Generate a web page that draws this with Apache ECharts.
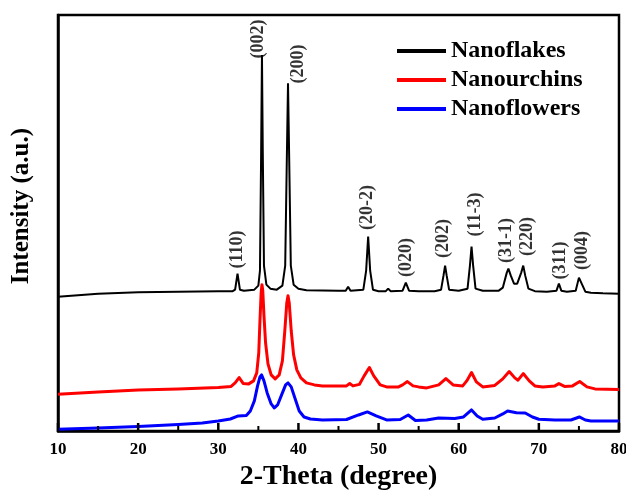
<!DOCTYPE html>
<html><head><meta charset="utf-8">
<script src="https://cdn.jsdelivr.net/npm/echarts@6/dist/echarts.min.js"></script>
<style>html,body{margin:0;padding:0;background:#fff}#c{width:626px;height:491px}</style>
</head><body><div id="c"></div>
<script>
const seriesNames = ['Nanoflakes', 'Nanourchins', 'Nanoflowers'];
const xTicks = [10, 20, 30, 40, 50, 60, 70, 80];
const flakes = [[10,134],[15,137],[20,138.5],[25,139],[30,139.5],[31.8,139.5],[32.1,141],[32.4,157],[32.7,141],[33.2,140],[34.5,141],[35.0,145],[35.2,160],[35.35,280],[35.45,375],[35.55,280],[35.7,165],[36.0,146],[36.5,142],[37.3,141],[38.0,145],[38.35,165],[38.55,270],[38.7,347],[38.85,270],[39.05,165],[39.4,146],[40,142],[41,140.5],[45,140],[45.9,140],[46.2,144],[46.5,140],[48.1,141],[48.45,160],[48.7,194],[48.95,160],[49.3,141],[50,139.5],[50.9,139.5],[51.2,142],[51.5,139.5],[53.0,140],[53.4,148],[53.8,140],[55,139.5],[57,139.5],[57.8,141],[58.1,155],[58.3,165],[58.5,155],[58.8,141],[60,140],[61.1,142],[61.4,165],[61.6,184],[61.8,165],[62.1,142],[63,140],[65,140],[65.5,143],[66.0,158],[66.2,162],[66.5,155],[66.9,147],[67.3,147],[67.8,158],[68.05,165],[68.3,155],[68.7,142],[69.5,139.5],[71,139],[72.2,140],[72.5,147],[72.8,140],[73.5,139],[74.6,140],[75.0,153],[75.1,153],[75.4,146],[75.8,139],[76.5,138],[78,137.5],[80,137]];
const urchins = [[10,36.7],[15,39],[20,41],[25,42],[30,43.3],[31.6,44.5],[32.1,48],[32.6,53.3],[33.1,47.5],[33.8,47],[34.4,50],[34.8,58],[35.05,78],[35.2,110],[35.35,138],[35.45,146],[35.55,140],[35.7,115],[35.9,88],[36.2,67],[36.6,56],[37.1,52],[37.6,56],[38.0,70],[38.3,100],[38.55,128],[38.7,135],[38.85,128],[39.1,100],[39.4,76],[39.8,61],[40.3,53],[41,48],[42,46],[43,45],[46,45],[46.4,47.3],[46.8,45],[47.6,46.5],[48.2,55],[48.85,63.3],[49.4,55],[50.2,46],[51,44],[52.5,44],[53.0,46],[53.6,49.3],[54.3,45],[55,44],[56,43],[57.5,46],[58.4,52.3],[59.3,46],[60.5,45],[61.0,50],[61.6,58.3],[62.2,49],[63,44],[64.5,45.5],[65.5,52],[66.3,59.3],[67.0,53],[67.4,50.7],[68.05,57.3],[68.8,50],[69.5,45],[70.5,44],[72.0,45],[72.5,47.3],[73.2,44.5],[74.2,45],[75.1,49.3],[76.0,44],[77,42],[80,41.5]];
const flowers = [[10,1.7],[15,3],[20,4.5],[25,6.5],[28,8],[30,10],[31.5,12],[32.5,15],[33.5,15.5],[34.0,20],[34.5,30],[34.9,45],[35.2,54],[35.4,56],[35.7,50],[36.1,38],[36.6,27],[37.0,23],[37.4,26],[37.9,36],[38.4,46],[38.7,48],[39.1,44],[39.6,32],[40.1,20],[40.7,14],[41.5,12],[43,11],[46,11.5],[47.5,16],[48.6,19],[49.7,15],[51,11],[52.7,11.5],[53.7,16],[54.6,10.5],[56,11],[57.5,13],[59.5,12.5],[60.6,14],[61.6,21],[62.3,15],[63.0,11.7],[64.5,13],[65.5,17],[66.1,20],[67.2,18.3],[68.3,18],[69.2,14],[70,11.7],[72,11],[74,11],[75.05,14],[75.8,11],[76.5,10],[80,10]];
const peakLabels = [[32.4,181,'(110)'],[34.96,391,'(002)'],[39.95,366,'(200)'],[48.56,223,'(20-2)'],[53.42,173,'(020)'],[58.04,192,'(202)'],[62.03,216,'(11-3)'],[65.9,190,'(31-1)'],[68.52,194,'(220)'],[72.64,170,'(311)'],[75.39,180,'(004)']];
const minorTicks = xTicks.slice(1).map((v, i) => (v + xTicks[i]) / 2);

const FONT = '"Liberation Serif","Times New Roman",serif';
function tickSeries(vals, len, width) {
  return {
    type: 'custom', silent: true, z: 6, clip: false,
    data: vals.map(v => [v]),
    encode: {x: 0},
    renderItem: (params, api) => {
      const p = api.coord([api.value(0), 0]);
      return {type: 'line', shape: {x1: p[0], y1: p[1], x2: p[0], y2: p[1] - len},
        style: {stroke: '#000', lineWidth: width}};
    }
  };
}
const chart = echarts.init(document.getElementById('c'), null, {renderer:'canvas'});
chart.setOption({
  animation: false,
  backgroundColor: '#fff',
  grid: {left: 58, right: 7, top: 15, bottom: 60, show: true, borderColor: '#000', borderWidth: 2.5,
    containLabel: false, outerBoundsMode: 'none'},
  legend: {
    data: seriesNames, orient: 'vertical', left: 392, top: 34, itemWidth: 49, itemHeight: 4, itemGap: 5,
    icon: 'rect',
    textStyle: {fontFamily: FONT, fontWeight: 'bold', fontSize: 24, color: '#000'}
  },
  graphic: [{
    type: 'text', left: 9, top: 128, rotation: Math.PI / 2,
    style: {text: 'Intensity (a.u.)', font: 'bold 25px ' + FONT, fill: '#000'}
  }],
  xAxis: {
    type: 'value', min: xTicks[0], max: xTicks[xTicks.length - 1], interval: xTicks[1] - xTicks[0],
    name: '2-Theta (degree)', nameLocation: 'middle', nameGap: 29,
    nameTextStyle: {fontFamily: FONT, fontWeight: 'bold', fontSize: 28, color: '#000'},
    axisLine: {show: true, lineStyle: {color: '#000', width: 2.5}},
    axisTick: {show: false}, minorTick: {show: false},
    splitLine: {show: false},
    axisLabel: {show: true, margin: 10, fontFamily: FONT, fontWeight: 'bold', fontSize: 17, color: '#000'}
  },
  yAxis: {
    type: 'value', min: 0, max: 415,
    axisLine: {show: true, lineStyle: {color: '#000', width: 2.5}},
    axisTick: {show: false}, axisLabel: {show: false}, splitLine: {show: false}
  },
  series: [
    {name: seriesNames[0], type: 'line', data: flakes, symbol: 'none', color: '#000', lineStyle: {width: 2, color: '#000'}, z: 3},
    {name: seriesNames[1], type: 'line', data: urchins, symbol: 'none', color: '#ff0000', lineStyle: {width: 3, color: '#ff0000', join: 'round'}, z: 4},
    {name: seriesNames[2], type: 'line', data: flowers, symbol: 'none', color: '#0000ff', lineStyle: {width: 3, color: '#0000ff', join: 'round'}, z: 4},
    {name: 'labels', type: 'scatter', data: peakLabels, symbolSize: 0, silent: true, z: 5,
      label: {show: true, position: 'inside', rotate: 90, formatter: p => p.data[2],
        fontFamily: FONT, fontWeight: 'bold', fontSize: 18, color: '#000'}},
    tickSeries(xTicks, 8, 2.5),
    tickSeries(minorTicks, 5, 2)
  ]
});
</script></body></html>
